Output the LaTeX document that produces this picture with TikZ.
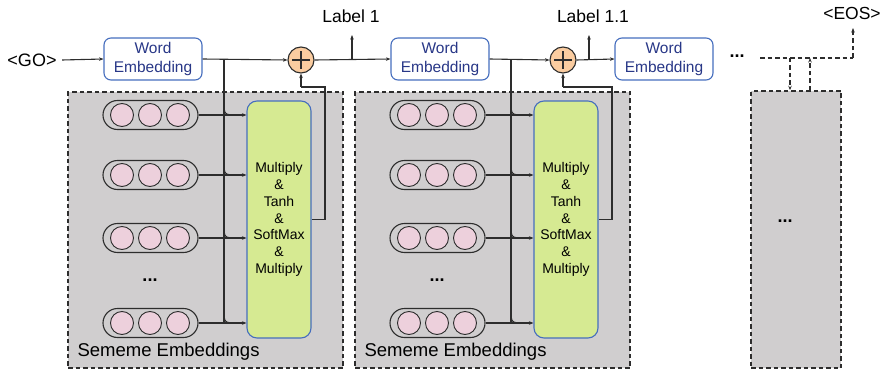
\documentclass[tikz,border=0pt]{standalone}
\usepackage{fontspec}
\setmainfont{Liberation Sans}
\usetikzlibrary{arrows.meta}
\definecolor{grayfill}{RGB}{208,206,207}
\definecolor{pinkfill}{RGB}{237,208,220}
\definecolor{greenfill}{RGB}{214,234,146}
\definecolor{orangefill}{RGB}{250,204,160}
\definecolor{weblue}{RGB}{70,110,190}
\definecolor{wetext}{RGB}{40,55,135}
\definecolor{linec}{RGB}{45,45,45}
\begin{document}
\begin{tikzpicture}[x=1pt,y=-1pt,line width=1.1pt,
  conn/.style={draw=linec,-{Stealth[length=4.5pt,width=3.5pt]}},
  plainline/.style={draw=linec},
  dconn/.style={draw=linec,dashed,dash pattern=on 4.5pt off 3pt,-{Stealth[length=4.5pt,width=3.5pt]}},
  wordbox/.style={draw=weblue,fill=white,rounded corners=7pt,minimum width=98pt,minimum height=42pt,inner sep=0pt,align=center,text=wetext,font=\fontsize{15.5}{19.5}\selectfont},
  plusnode/.style={circle,draw=linec,fill=orangefill,minimum size=26pt,inner sep=0pt,
    path picture={\draw[linec,line width=1.2pt] ([xshift=-9pt]path picture bounding box.center) -- ([xshift=9pt]path picture bounding box.center) ([yshift=-9pt]path picture bounding box.center) -- ([yshift=9pt]path picture bounding box.center);}},
  graybox/.style={draw=linec,fill=grayfill,dashed,dash pattern=on 4.5pt off 3pt,line width=1.5pt,inner sep=0pt},
  capsule/.style={draw=linec,fill=grayfill,rounded corners=14.5pt,minimum width=95pt,minimum height=29pt,inner sep=0pt},
  dotc/.style={circle,draw=linec,fill=pinkfill,minimum size=23pt,inner sep=0pt,line width=0.9pt},
  greenbox/.style={draw=weblue,fill=greenfill,rounded corners=10pt,minimum width=64pt,minimum height=237pt,inner sep=0pt,align=center,font=\fontsize{14}{16.8}\selectfont},
  lbl/.style={font=\fontsize{17.5}{20}\selectfont,inner sep=0pt},
  ellip/.style={font=\fontsize{18}{20}\selectfont\bfseries,inner sep=0pt}
]
\useasboundingbox (0,0) rectangle (884,369);

% start token
\node[lbl,font=\fontsize{18}{20}\selectfont] (go) at (32,60) {<GO>};

% word embeddings
\node[wordbox] (we1) at (153,59) {Word\\Embedding};
\node[wordbox] (we2) at (440,59) {Word\\Embedding};
\node[wordbox] (we3) at (664,59) {Word\\Embedding};

% plus nodes
\node[plusnode] (c1) at (301,60) {};
\node[plusnode] (c2) at (563,60) {};

% labels
\node[lbl] (l1) at (351,16) {Label 1};
\node[lbl] (l2) at (593,16) {Label 1.1};
\coordinate (la1) at (352,60);
\coordinate (la2) at (589,60);
\coordinate (la1t) at (352,35);
\coordinate (la2t) at (589,35);

% blocks
\foreach \i/\dx/\cx in {1/0/301,2/287/563}{
  \node[graybox,minimum width=275pt,minimum height=276pt] (g\i) at (205.5+\dx,230) {};
  \node[greenbox] (gr\i) at (279+\dx,219.5) {Multiply\\\&\\Tanh\\\&\\SoftMax\\\&\\Multiply};
  \node[anchor=west,inner sep=0pt,font=\fontsize{18.5}{20}\selectfont] (se\i) at (77+\dx,352) {Sememe Embeddings};
  \node[ellip] (sd\i) at (150+\dx,280) {...};
  \foreach \r/\ry in {a/115,b/175,c/238,d/323}{
    \node[capsule] (cap\i\r) at (150.5+\dx,\ry) {};
    \node[dotc] at (122+\dx,\ry) {};
    \node[dotc] at (150+\dx,\ry) {};
    \node[dotc] at (178+\dx,\ry) {};
    \draw[conn] (cap\i\r.east) -- (cap\i\r.east -| gr\i.west);
    \draw[plainline] (224+\dx,\ry-14) .. controls (224+\dx,\ry) .. (238+\dx,\ry);
  }
  \coordinate (j\i) at (224+\dx,60);
  \draw[plainline] (j\i) -- (j\i |- cap\i d.east);
  % feedback
  \coordinate (fb\i a) at (325+\dx,219.5);
  \coordinate (fb\i b) at (325+\dx,87);
  \coordinate (fb\i c) at (\cx,87);
  \draw[plainline] (gr\i.east) -- (fb\i a) -- (fb\i b) -- (fb\i c);
  \draw[conn] (fb\i c) -- (c\i.south);
}

% main line
\draw[conn] (go.east) ++(5,0) -- (we1.west);
\draw[conn] (we1.east) -- (c1.west);
\draw[conn] (c1.east) -- (we2.west);
\draw[conn] (we2.east) -- (c2.west);
\draw[conn] (c2.east) -- (we3.west);
\draw[conn] (la1) -- (la1t);
\draw[conn] (la2) -- (la2t);

% final part
\node[ellip] (dots) at (737,56) {...};
\node[graybox,minimum width=90pt,minimum height=277pt] (g3) at (796,229.5) {};
\node[ellip] (gd3) at (785,221) {...};
\node[lbl] (eos) at (852,13) {<EOS>};
\coordinate (d0) at (760,58);
\coordinate (d1) at (790,58);
\coordinate (d2) at (810,58);
\coordinate (d3) at (853,58);
\coordinate (d4) at (853,28);
\draw[draw=linec,dashed,dash pattern=on 4.5pt off 3pt] (d0) -- (d3);
\draw[dconn] (d3) -- (d4);
\draw[dconn] (d1) -- (d1 |- g3.north);
\draw[dconn] (d2 |- g3.north) -- (d2);
\end{tikzpicture}
\end{document}
